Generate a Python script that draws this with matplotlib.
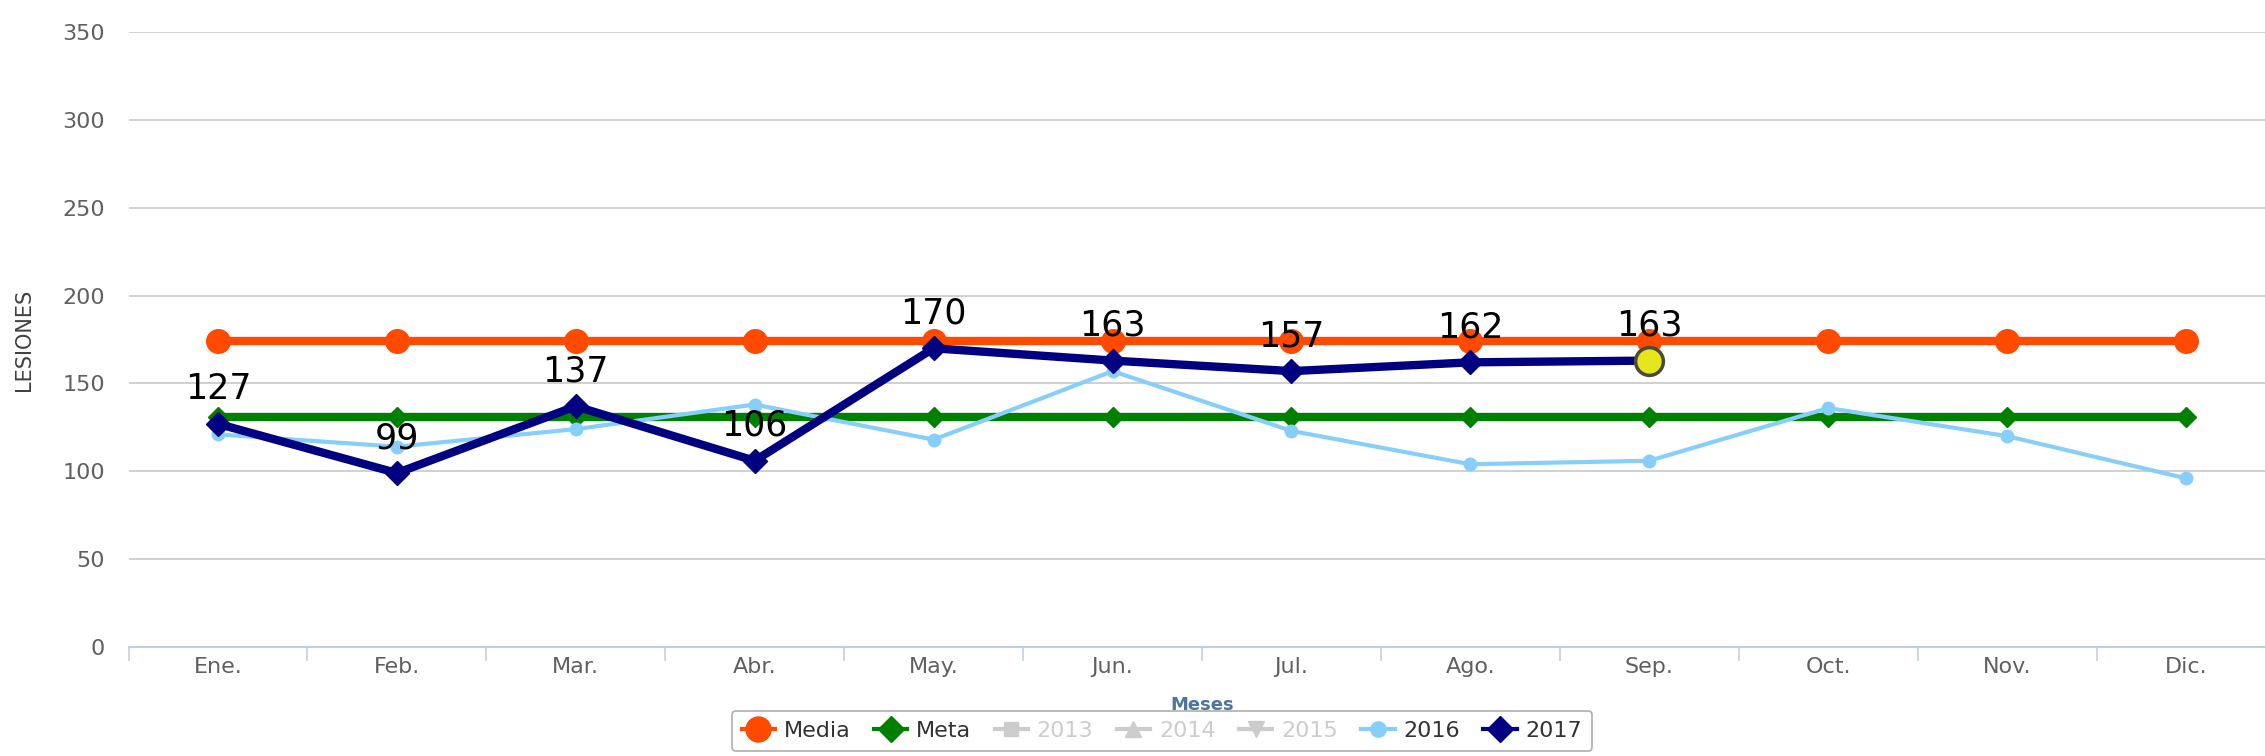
import numpy as np
import matplotlib.pyplot as plt
from matplotlib.lines import Line2D

meses = ["Ene.", "Feb.", "Mar.", "Abr.", "May.", "Jun.", "Jul.", "Ago.", "Sep.", "Oct.", "Nov.", "Dic."]
media = [174] * 12
meta = [131] * 12
y2016 = [121, 114, 124, 138, 118, 157, 123, 104, 106, 136, 120, 96]
y2017 = [127, 99, 137, 106, 170, 163, 157, 162, 163]
yticks = [0, 50, 100, 150, 200, 250, 300, 350]

x = np.arange(len(meses))
x17 = np.arange(len(y2017))

fig = plt.figure(figsize=(22.65, 7.56), dpi=100)
ax = fig.add_axes([128.5 / 2265, 1 - 647 / 756, 2147 / 2265, 615 / 756])

ax.plot(x, media, color="#ff4a00", lw=6, marker="o", ms=17, zorder=3)
ax.plot(x, meta, color="#008000", lw=6, marker="D", ms=10, zorder=4)
ax.plot(x, y2016, color="#87cefa", lw=3, marker="o", ms=9, zorder=5)
ax.plot(x17, y2017, color="#000080", lw=6, marker="D", ms=12, zorder=6)
# punto resaltado (hover)
ax.plot(x17[-1], y2017[-1], marker="o", ms=20, mfc="#e6e61e", mec="#4a4a3a", mew=2.5, zorder=7)

for xi, v in zip(x17, y2017):
    ax.annotate(str(v), (xi, v), xytext=(0, 18), textcoords="offset points",
                ha="center", va="baseline", fontsize=25, color="black", zorder=8)

ax.set_xlim(-0.5, 11.5)
ax.set_ylim(0, 350)
ax.set_yticks(yticks)
ax.set_xticks(x)
ax.set_xticklabels(meses)
ax.set_xticks(np.arange(-0.5, 12, 1), minor=True)
ax.tick_params(axis="x", which="major", length=0, pad=7, labelsize=16, labelcolor="#606060")
ax.tick_params(axis="x", which="minor", length=10, color="#C0D0E0", width=1.2)
ax.tick_params(axis="y", length=0, pad=17, labelsize=16, labelcolor="#606060")
ax.grid(axis="y", color="#c8c8c8", lw=1.2)
ax.set_axisbelow(True)
for s in ["top", "right", "left"]:
    ax.spines[s].set_visible(False)
ax.spines["bottom"].set_color("#C0D0E0")
ax.spines["bottom"].set_linewidth(1.5)

ax.set_ylabel("LESIONES", fontsize=15, color="#404040", labelpad=20)
ax.set_xlabel("Meses", fontsize=13, fontweight="bold", color="#4d759e", labelpad=14)

grey = "#cccccc"
handles = [
    Line2D([], [], color="#ff4a00", lw=3, marker="o", ms=18),
    Line2D([], [], color="#008000", lw=3, marker="D", ms=13),
    Line2D([], [], color=grey, lw=3, marker="s", ms=10),
    Line2D([], [], color=grey, lw=3, marker="^", ms=11),
    Line2D([], [], color=grey, lw=3, marker="v", ms=11),
    Line2D([], [], color="#87cefa", lw=3, marker="o", ms=11),
    Line2D([], [], color="#000080", lw=3, marker="D", ms=13),
]
labels = ["Media", "Meta", "2013", "2014", "2015", "2016", "2017"]
leg = fig.legend(handles, labels, loc="upper center", bbox_to_anchor=(1162 / 2265, 1 - 711 / 756),
                 borderaxespad=0, ncol=7, fontsize=16, frameon=True, fancybox=True, edgecolor="#999999",
                 handlelength=1.5, handletextpad=0.4, columnspacing=1.05, borderpad=0.45,
                 labelcolor=["#333333", "#333333", grey, grey, grey, "#333333", "#333333"])
leg.get_frame().set_linewidth(1.2)

fig.savefig("out.png", dpi=100)
